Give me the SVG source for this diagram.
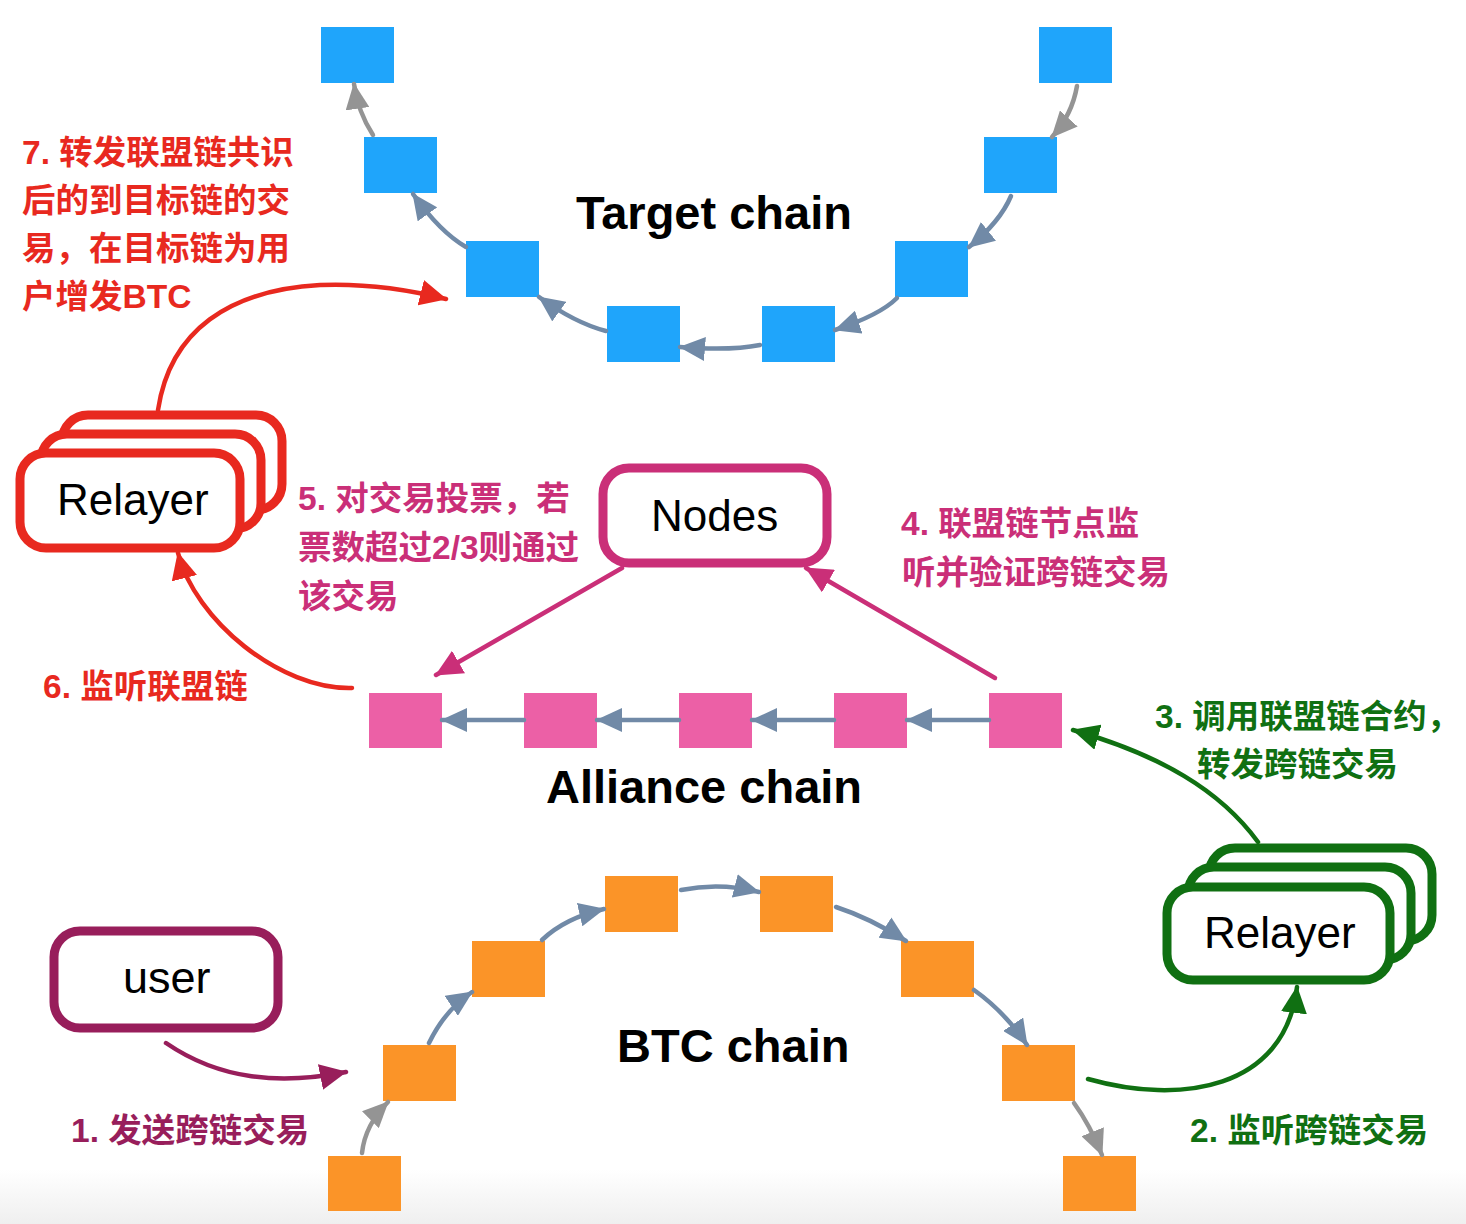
<svg xmlns="http://www.w3.org/2000/svg" width="1466" height="1224" viewBox="0 0 1466 1224">
<style>
.blue{fill:#1fa5fb}
.pink{fill:#ec60a6}
.orange{fill:#fb9428}
.box{fill:#fff;stroke-width:9}
.lbl{font-family:"Liberation Sans",Arial,sans-serif;font-size:44px;fill:#000}
.head{font-family:"Liberation Sans",Arial,sans-serif;font-size:47px;font-weight:bold;fill:#000}
.cn{font-family:"Liberation Sans","Noto Sans CJK SC",sans-serif;font-size:33.5px;font-weight:bold}
.c{fill:none;stroke-width:4.5;stroke-linecap:round}
.slate{stroke:#718aa7}
.gray{stroke:#949494}
.red{stroke:#e8291f}
.grn{stroke:#107012}
.mag{stroke:#ca2f78}
.pur{stroke:#981e5b}
</style>
<defs>
<linearGradient id="bg" x1="0" y1="0" x2="0" y2="1"><stop offset="0" stop-color="#fff"/><stop offset="1" stop-color="#efefef"/></linearGradient>
<marker id="aSlate" markerUnits="userSpaceOnUse" viewBox="0 0 26 24" markerWidth="26" markerHeight="24" refX="25" refY="12" orient="auto"><path d="M0,0 L26,12 L0,24 z" fill="#718aa7"/></marker>
<marker id="aGray" markerUnits="userSpaceOnUse" viewBox="0 0 26 24" markerWidth="26" markerHeight="24" refX="25" refY="12" orient="auto"><path d="M0,0 L26,12 L0,24 z" fill="#949494"/></marker>
<marker id="aRed" markerUnits="userSpaceOnUse" viewBox="0 0 27 26" markerWidth="27" markerHeight="26" refX="26" refY="13" orient="auto"><path d="M0,0 L27,13 L0,26 z" fill="#e8291f"/></marker>
<marker id="aGrn" markerUnits="userSpaceOnUse" viewBox="0 0 27 26" markerWidth="27" markerHeight="26" refX="26" refY="13" orient="auto"><path d="M0,0 L27,13 L0,26 z" fill="#107012"/></marker>
<marker id="aMag" markerUnits="userSpaceOnUse" viewBox="0 0 27 26" markerWidth="27" markerHeight="26" refX="26" refY="13" orient="auto"><path d="M0,0 L27,13 L0,26 z" fill="#ca2f78"/></marker>
<marker id="aPur" markerUnits="userSpaceOnUse" viewBox="0 0 27 26" markerWidth="27" markerHeight="26" refX="26" refY="13" orient="auto"><path d="M0,0 L27,13 L0,26 z" fill="#981e5b"/></marker>
</defs>
<rect width="1466" height="1224" fill="#fff"/>
<rect y="1170" width="1466" height="54" fill="url(#bg)"/>

<g id="target-chain">
<rect class="blue" x="321" y="27" width="73" height="56"/>
<rect class="blue" x="364" y="137" width="73" height="56"/>
<rect class="blue" x="466" y="241" width="73" height="56"/>
<rect class="blue" x="607" y="306" width="73" height="56"/>
<rect class="blue" x="762" y="306" width="73" height="56"/>
<rect class="blue" x="895" y="241" width="73" height="56"/>
<rect class="blue" x="984" y="137" width="73" height="56"/>
<rect class="blue" x="1039" y="27" width="73" height="56"/>
<text class="head" x="576" y="229">Target chain</text>
</g>

<g id="alliance-chain">
<rect class="pink" x="369" y="693" width="73" height="55"/>
<rect class="pink" x="524" y="693" width="73" height="55"/>
<rect class="pink" x="679" y="693" width="73" height="55"/>
<rect class="pink" x="834" y="693" width="73" height="55"/>
<rect class="pink" x="989" y="693" width="73" height="55"/>
<text class="head" x="546" y="803">Alliance chain</text>
</g>

<g id="btc-chain">
<rect class="orange" x="328" y="1156" width="73" height="55"/>
<rect class="orange" x="383" y="1045" width="73" height="56"/>
<rect class="orange" x="472" y="941" width="73" height="56"/>
<rect class="orange" x="605" y="876" width="73" height="56"/>
<rect class="orange" x="760" y="876" width="73" height="56"/>
<rect class="orange" x="901" y="941" width="73" height="56"/>
<rect class="orange" x="1002" y="1045" width="73" height="56"/>
<rect class="orange" x="1063" y="1156" width="73" height="55"/>
<text class="head" x="617" y="1062">BTC chain</text>
</g>

<g id="relayer-red">
<rect class="box" x="62" y="415" width="220" height="95" rx="26" stroke="#e8291f"/>
<rect class="box" x="41" y="434" width="220" height="95" rx="26" stroke="#e8291f"/>
<rect class="box" x="20" y="453" width="220" height="95" rx="26" stroke="#e8291f"/>
<text class="lbl" x="57" y="515">Relayer</text>
</g>

<g id="nodes">
<rect class="box" x="603" y="468" width="224" height="95" rx="26" stroke="#ca2f78"/>
<text class="lbl" x="651" y="531">Nodes</text>
</g>

<g id="relayer-green">
<rect class="box" x="1209" y="848" width="223" height="93" rx="26" stroke="#107012"/>
<rect class="box" x="1188" y="867" width="223" height="93" rx="26" stroke="#107012"/>
<rect class="box" x="1167" y="887" width="223" height="93" rx="26" stroke="#107012"/>
<text class="lbl" x="1204" y="948">Relayer</text>
</g>

<g id="user">
<rect class="box" x="54" y="931" width="224" height="97" rx="26" stroke="#981e5b"/>
<text class="lbl" x="123" y="993" style="font-size:45px">user</text>
</g>

<g id="connectors">
<path class="c gray" d="M1077,86 Q1072,115 1052,137" marker-end="url(#aGray)"/>
<path class="c slate" d="M1011,196 Q1000,222 969,247" marker-end="url(#aSlate)"/>
<path class="c slate" d="M897,298 Q880,315 835,330" marker-end="url(#aSlate)"/>
<path class="c slate" d="M760,345 Q730,351 680,347" marker-end="url(#aSlate)"/>
<path class="c slate" d="M606,331 Q575,323 539,297" marker-end="url(#aSlate)"/>
<path class="c slate" d="M466,247 Q440,232 413,194" marker-end="url(#aSlate)"/>
<path class="c gray" d="M373,135 Q358,112 354,84" marker-end="url(#aGray)"/>

<path class="c slate" d="M989,720 L907,720" marker-end="url(#aSlate)"/>
<path class="c slate" d="M834,720 L752,720" marker-end="url(#aSlate)"/>
<path class="c slate" d="M679,720 L597,720" marker-end="url(#aSlate)"/>
<path class="c slate" d="M524,720 L442,720" marker-end="url(#aSlate)"/>

<path class="c gray" d="M362,1153 Q365,1125 388,1102" marker-end="url(#aGray)"/>
<path class="c slate" d="M429,1043 Q445,1010 472,992" marker-end="url(#aSlate)"/>
<path class="c slate" d="M542,940 Q565,918 604,909" marker-end="url(#aSlate)"/>
<path class="c slate" d="M681,890 Q720,882 759,892" marker-end="url(#aSlate)"/>
<path class="c slate" d="M836,907 Q870,918 906,941" marker-end="url(#aSlate)"/>
<path class="c slate" d="M974,990 Q1005,1012 1027,1045" marker-end="url(#aSlate)"/>
<path class="c gray" d="M1074,1103 Q1090,1125 1102,1155" marker-end="url(#aGray)"/>

<path class="c pur" d="M166,1043 C220,1080 280,1085 346,1072" marker-end="url(#aPur)"/>
<path class="c grn" d="M1088,1079 C1180,1105 1285,1090 1297,987" marker-end="url(#aGrn)"/>
<path class="c grn" d="M1258,842 C1220,790 1160,755 1073,730" marker-end="url(#aGrn)"/>
<path class="c mag" d="M995,678 L806,568" marker-end="url(#aMag)"/>
<path class="c mag" d="M622,568 L436,675" marker-end="url(#aMag)"/>
<path class="c red" d="M352,688 C280,690 195,620 178,553" marker-end="url(#aRed)"/>
<path class="c red" d="M158,410 C170,330 230,290 320,285 C370,283 410,290 446,299" marker-end="url(#aRed)"/>
</g>

<g id="labels">
<text class="cn" fill="#e8291f"><tspan x="22" y="164">7. 转发联盟链共识</tspan><tspan x="22" y="212">后的到目标链的交</tspan><tspan x="22" y="260">易，在目标链为用</tspan><tspan x="22" y="308">户增发BTC</tspan></text>
<text class="cn" fill="#ca2f78"><tspan x="298" y="510">5. 对交易投票，若</tspan><tspan x="298" y="559">票数超过2/3则通过</tspan><tspan x="298" y="608">该交易</tspan></text>
<text class="cn" fill="#ca2f78"><tspan x="901" y="535">4. 联盟链节点监</tspan><tspan x="902" y="584">听并验证跨链交易</tspan></text>
<text class="cn" fill="#e8291f" x="43" y="698">6. 监听联盟链</text>
<text class="cn" fill="#107012"><tspan x="1155" y="728">3. 调用联盟链合约，</tspan><tspan x="1197" y="776">转发跨链交易</tspan></text>
<text class="cn" fill="#107012" x="1190" y="1142">2. 监听跨链交易</text>
<text class="cn" fill="#981e5b" x="71" y="1142">1. 发送跨链交易</text>
</g>
</svg>
